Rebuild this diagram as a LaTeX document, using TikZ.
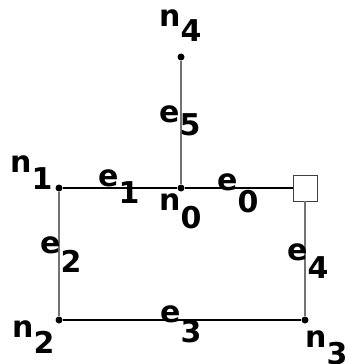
\documentclass[tikz,border=0pt]{standalone}
\usepackage{fontspec}
\setmainfont{Liberation Sans}
\newfontfamily\labfont{DejaVu Sans Bold}
\newcommand{\lbl}[3]{{\labfont\fontsize{30pt}{32pt}\selectfont #1\kern0pt\raisebox{-#3pt}{#2}}}
\begin{document}
\begin{tikzpicture}[x=1pt,y=-1pt,
  dot/.style={circle,fill=black,inner sep=0pt,minimum size=7pt},
  sqbox/.style={draw=black!75,fill=white,line width=0.8pt,minimum width=24pt,minimum height=26pt,inner sep=0pt},
  hline/.style={black,line width=1.2pt},
  vline/.style={black!55,line width=1.2pt},
  lab/.style={anchor=base west,inner sep=0pt}]
\useasboundingbox (0,0) rectangle (348,364);
\node[dot] (n1) at (59,188) {};
\node[dot] (n0) at (181,188) {};
\node[dot] (n4) at (181,57) {};
\node[dot] (n2) at (59,320) {};
\node[dot] (n3) at (305,320) {};
\node[sqbox] (sq) at (305,188) {};
\draw[vline] (n4) -- (n0);
\draw[vline] (n1) -- (n2);
\draw[vline] (sq) -- (n3);
\draw[hline] (n1) -- (n0);
\draw[hline] (n0) -- (sq);
\draw[hline] (n2) -- (n3);
\node[lab] (ln1) at (10,172) {\lbl{n}{1}{17}};
\node[lab] (le1) at (98,186) {\lbl{e}{1}{17}};
\node[lab] (ln0) at (159,210) {\lbl{n}{0}{18}};
\node[lab] (le0) at (217,190) {\lbl{e}{0}{22}};
\node[lab] (le2) at (40,253) {\lbl{e}{2}{19}};
\node[lab] (le4) at (287,260) {\lbl{e}{4}{18}};
\node[lab] (le3) at (160,322) {\lbl{e}{3}{20}};
\node[lab] (ln2) at (12,337) {\lbl{n}{2}{16}};
\node[lab] (ln3) at (305,347) {\lbl{n}{3}{17}};
\node[lab] (ln4) at (159,27) {\lbl{n}{4}{15}};
\node[lab] (le5) at (159,122) {\lbl{e}{5}{13}};
\end{tikzpicture}
\end{document}
